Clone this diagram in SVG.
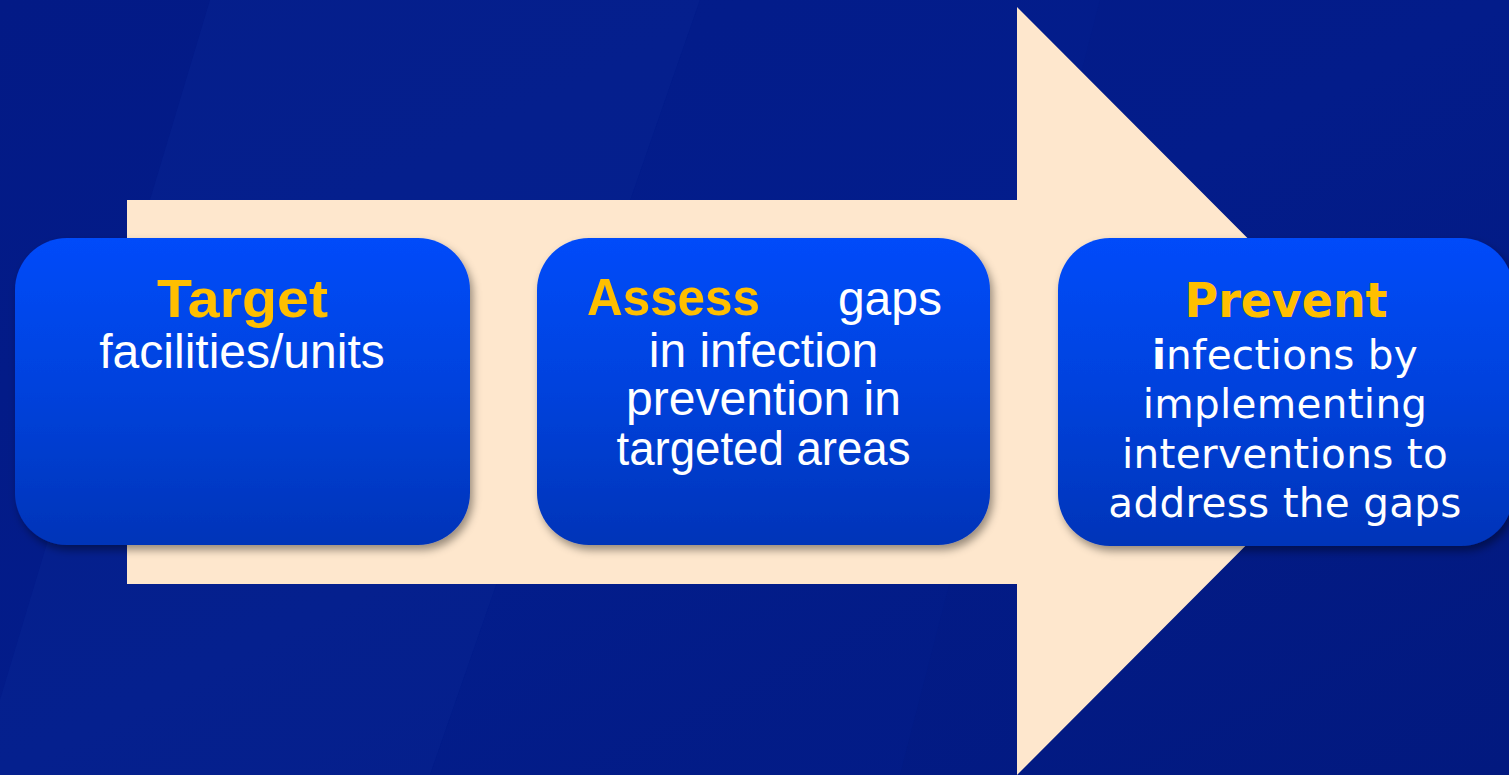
<svg xmlns="http://www.w3.org/2000/svg" width="1509" height="775" viewBox="0 0 1509 775">
<defs>
<linearGradient id="bg" x1="0" y1="0" x2="1" y2="1">
<stop offset="0" stop-color="#031a86"/>
<stop offset="0.5" stop-color="#031c8a"/>
<stop offset="1" stop-color="#02197f"/>
</linearGradient>
<linearGradient id="box" x1="0" y1="0" x2="0" y2="1">
<stop offset="0" stop-color="#004bfa"/>
<stop offset="0.5" stop-color="#0242dc"/>
<stop offset="1" stop-color="#0434b8"/>
</linearGradient>
<filter id="sh" x="-10%" y="-10%" width="125%" height="130%">
<feDropShadow dx="3" dy="5" stdDeviation="4" flood-color="#000" flood-opacity="0.4"/>
</filter>
<style>
.node rect{fill:url(#box);filter:url(#sh)}
.h{font-family:"Liberation Sans",Arial,sans-serif;font-weight:bold;fill:#ffbf00}
.t{font-family:"Liberation Sans",Arial,sans-serif;fill:#ffffff;font-size:48px}
.h3{font-family:"DejaVu Sans",Verdana,sans-serif;font-weight:bold;fill:#ffbf00;font-size:48px}
.t3{font-family:"DejaVu Sans",Verdana,sans-serif;fill:#ffffff;font-size:40.5px;letter-spacing:0.3px}
</style>
</defs>
<rect x="0" y="0" width="1509" height="775" fill="url(#bg)"/>
<polygon points="210,0 700,0 430,775 0,775 0,700" fill="#0a2a9c" opacity="0.25"/>
<polygon points="700,0 1100,0 900,775 430,775" fill="#0a2a9c" opacity="0.12"/>
<g id="connectors">
<polygon id="big-arrow" points="127,200 1017,200 1017,7 1400,391 1017,775 1017,584 127,584" fill="#fee7cd"/>
</g>
<g id="node-target" class="node">
<rect x="15" y="238" width="455" height="307" rx="52" ry="52"/>
<text class="h" x="242.5" y="317" font-size="54" text-anchor="middle" textLength="171" lengthAdjust="spacingAndGlyphs">Target</text>
<text class="t" x="242" y="368" text-anchor="middle">facilities/units</text>
</g>
<g id="node-assess" class="node">
<rect x="537" y="238" width="453" height="307" rx="52" ry="52"/>
<text class="h" x="587" y="315" font-size="52" textLength="173" lengthAdjust="spacingAndGlyphs">Assess</text>
<text class="t" x="942" y="315" text-anchor="end">gaps</text>
<text class="t" x="763.5" y="367" text-anchor="middle">in infection</text>
<text class="t" x="763.5" y="415" text-anchor="middle">prevention in</text>
<text class="t" x="763.5" y="465" text-anchor="middle" textLength="294" lengthAdjust="spacingAndGlyphs">targeted areas</text>
</g>
<g id="node-prevent" class="node">
<rect x="1058" y="238" width="455" height="308" rx="52" ry="52"/>
<text class="h3" x="1286" y="317" text-anchor="middle" textLength="203" lengthAdjust="spacingAndGlyphs">Prevent</text>
<text class="t3" x="1285" y="369" text-anchor="middle"><tspan font-weight="bold">i</tspan>nfections by</text>
<text class="t3" x="1285" y="418" text-anchor="middle">implementing</text>
<text class="t3" x="1285" y="468" text-anchor="middle">interventions to</text>
<text class="t3" x="1285" y="517" text-anchor="middle">address the gaps</text>
</g>
</svg>
